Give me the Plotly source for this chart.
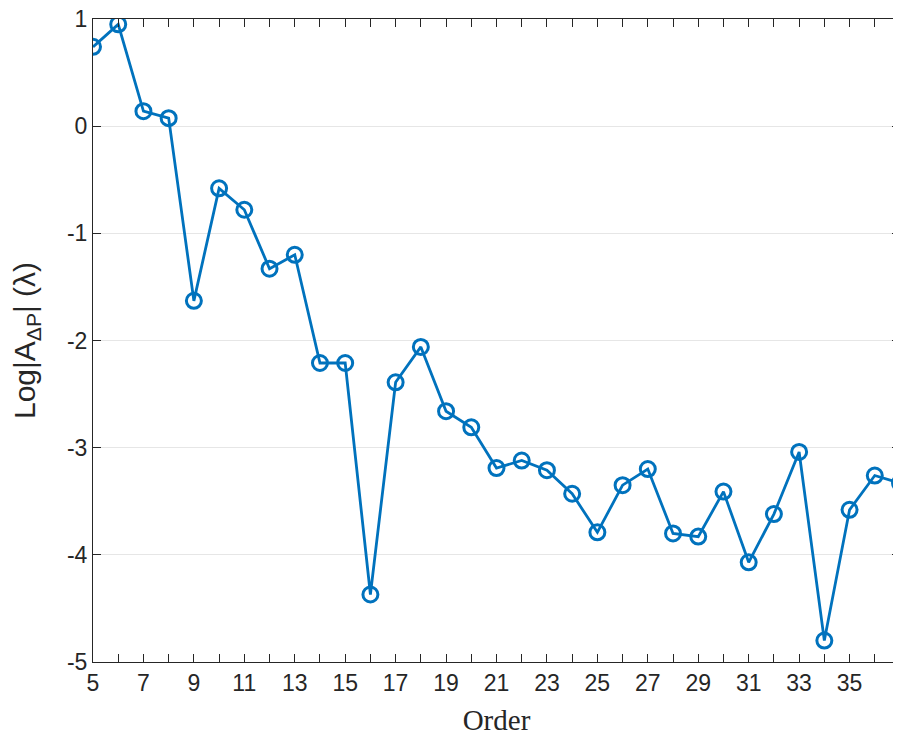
import plotly.graph_objects as go

order = list(range(5, 38))
log_amp = [0.74, 0.95, 0.14, 0.075, -1.63, -0.58, -0.78, -1.33, -1.20, -2.21,
           -2.21, -4.37, -2.39, -2.06, -2.66, -2.81, -3.19, -3.12, -3.21, -3.43,
           -3.79, -3.35, -3.20, -3.80, -3.83, -3.41, -4.07, -3.62, -3.04, -4.80,
           -3.58, -3.26, -3.33]

x_tickvals = list(range(5, 38))
x_ticktext = [str(v) if (v % 2 == 1 and v <= 35) else "" for v in x_tickvals]
y_tickvals = [-5, -4, -3, -2, -1, 0, 1]
y_ticktext = ["-5", "-4", "-3", "-2", "-1", "0", "1"]

color = "#0072BD"
fig = go.Figure()
fig.add_trace(go.Scatter(
    x=order, y=log_amp, mode="lines+markers",
    line=dict(color=color, width=2.8),
    marker=dict(symbol="circle-open", size=15, color=color, line=dict(width=3, color=color)),
    showlegend=False,
))

axis_common = dict(
    showline=True, linecolor="#262626", linewidth=1,
    mirror="ticks", ticks="inside", ticklen=8, tickcolor="#262626", tickwidth=1,
    tickfont=dict(family="Liberation Sans, Arial", size=23, color="#262626"),
    zeroline=False, automargin=False, ticklabeloverflow="allow",
)

fig.update_layout(
    width=893, height=728,
    margin=dict(l=85, r=1, t=11, b=74),
    paper_bgcolor="white", plot_bgcolor="white",
    xaxis=dict(
        range=[5, 37], tickmode="array", tickvals=x_tickvals, ticktext=x_ticktext,
        showgrid=False,
        title=dict(text="Order", font=dict(family="Liberation Serif, Times New Roman", size=29, color="#262626"), standoff=18),
        **axis_common,
    ),
    yaxis=dict(
        range=[-5, 1], tickmode="array", tickvals=y_tickvals, ticktext=y_ticktext,
        showgrid=True, gridcolor="#e6e6e6", gridwidth=1,
        title=dict(text="Log|A<sub>ΔP</sub>| (λ)", font=dict(family="Liberation Sans, Arial", size=30, color="#262626"), standoff=24),
        **axis_common,
    ),
)

fig.write_html("out.html")
